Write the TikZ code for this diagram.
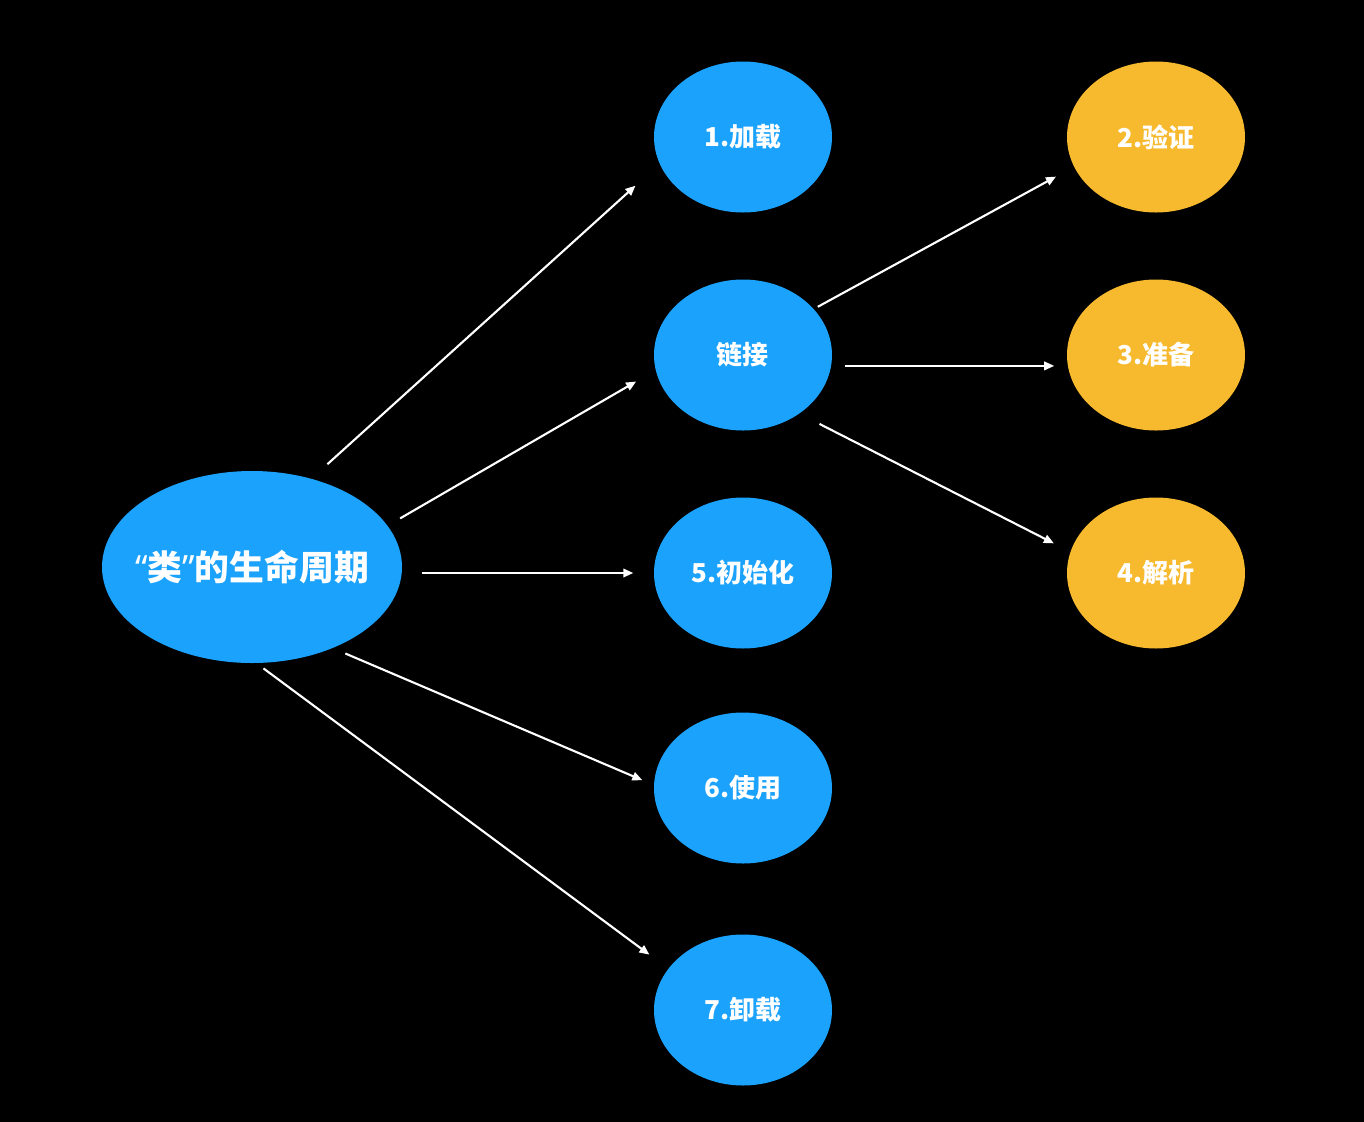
\documentclass[tikz,border=0pt]{standalone}
\usepackage{fontspec}
\newfontfamily\cjk{Noto Sans CJK SC}
\newfontfamily\quotefont{Noto Sans}
\usepackage{tikz}
\usetikzlibrary{positioning,arrows.meta,calc,shapes.geometric}
\definecolor{StageBlue}{HTML}{1BA2FC}
\definecolor{LinkOrange}{HTML}{F7B92E}

\begin{document}
\begin{tikzpicture}[
  >=Latex,
  font=\cjk\bfseries,
  stage/.style={ellipse,fill=StageBlue,text=white,minimum width=1.78cm,minimum height=1.51cm,inner sep=0pt,font=\cjk\bfseries\fontsize{7.4pt}{8pt}\selectfont},
  substage/.style={stage,fill=LinkOrange},
  lifecycle/.style={stage,minimum width=3.0cm,minimum height=1.92cm,font=\cjk\bfseries\fontsize{9.9pt}{11pt}\selectfont},
  flow/.style={-{Triangle[length=1mm,width=0.85mm]},line width=0.6pt,draw=white}
]

% background and page size
\fill[black] (0,0) rectangle (13.64,-11.22);
\useasboundingbox (0,0) rectangle (13.64,-11.22);

% the class itself
\node[lifecycle] (root) at (2.52,-5.67)
  {\makebox[0pt][c]{{\quotefont\bfseries “}类{\quotefont\bfseries ”}的生命周期}};

% stages of the lifecycle
\node[stage] (load)   at (7.43,-1.37)  {1.加载};
\node[stage] (link)   at (7.43,-3.55)  {链接};
\node[stage] (init)   at (7.43,-5.73)  {5.初始化};
\node[stage] (use)    at (7.43,-7.88)  {6.使用};
\node[stage] (unload) at (7.43,-10.10) {7.卸载};

% parts of linking
\node[substage] (verify)  at (11.56,-1.37) {2.验证};
\node[substage] (prepare) at (11.56,-3.55) {3.准备};
\node[substage] (resolve) at (11.56,-5.73) {4.解析};

% arrows out of the class
\draw[flow,shorten <=0.21cm,shorten >=0.32cm] (root.56) -- (load.198);
\draw[flow,shorten <=0.14cm,shorten >=0.22cm] (root.17) -- (link.190);
\draw[flow,shorten <=0.19cm,shorten >=0.20cm] (init.west -| root.east) -- (init.west);
\draw[flow,shorten <=0.13cm,shorten >=0.12cm] (root.-45) -- (use.178);
\draw[flow,shorten <=0.08cm,shorten >=0.23cm] (root.-87) -- (unload.151);

% arrows out of linking
\draw[flow,shorten <=0.04cm,shorten >=0.20cm] (link.33.5) -- (verify.200);
\draw[flow,shorten <=0.13cm,shorten >=0.13cm] (link.-7.8) -- (prepare.187.8);
\draw[flow,shorten <=0.22cm,shorten >=0.18cm] (link.-46) -- (resolve.166);

\end{tikzpicture}
\end{document}
